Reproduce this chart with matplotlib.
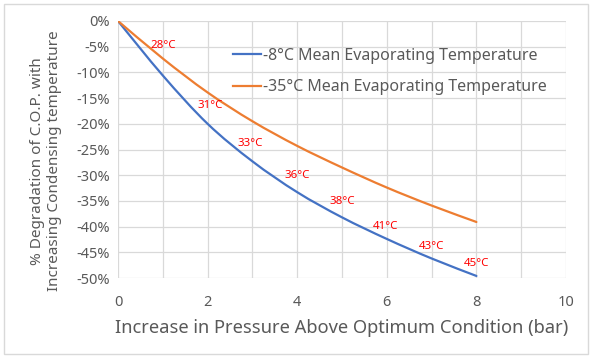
import matplotlib
matplotlib.use('Agg')
import matplotlib.pyplot as plt
from matplotlib.ticker import MultipleLocator, FuncFormatter
from matplotlib.patches import Rectangle, PathPatch
from matplotlib.path import Path
from matplotlib.lines import Line2D

pressure = [0, 1, 2, 3, 4, 5, 6, 7, 8]
deg_m8 = [0, -10.6, -20.0, -27.3, -33.3, -38.2, -42.4, -46.2, -49.6]
deg_m35 = [0, -7.3, -13.9, -19.5, -24.3, -28.5, -32.4, -35.9, -39.1]
cond_labels = ['28°C', '31°C', '33°C', '36°C', '38°C', '41°C', '43°C', '45°C']
label_x = [1.0, 2.06, 2.95, 4.0, 5.0, 5.97, 7.0, 8.0]
label_y = [-4.7, -16.5, -23.9, -30.0, -35.2, -40.0, -43.8, -47.1]

plt.rcParams['font.family'] = ['Noto Sans', 'DejaVu Sans']
gray = '#595959'


def smooth_path(xs, ys):
    # excel style smoothed line: cubic bezier through the points
    verts = [(xs[0], ys[0])]
    codes = [Path.MOVETO]
    n = len(xs)
    for i in range(n - 1):
        x0, y0 = (xs[i - 1], ys[i - 1]) if i > 0 else (xs[i], ys[i])
        x3, y3 = (xs[i + 2], ys[i + 2]) if i + 2 < n else (xs[i + 1], ys[i + 1])
        c1 = (xs[i] + (xs[i + 1] - x0) / 6, ys[i] + (ys[i + 1] - y0) / 6)
        c2 = (xs[i + 1] - (x3 - xs[i]) / 6, ys[i + 1] - (y3 - ys[i]) / 6)
        verts += [c1, c2, (xs[i + 1], ys[i + 1])]
        codes += [Path.CURVE4] * 3
    return Path(verts, codes)


fig = plt.figure(figsize=(5.93, 3.59), dpi=100)
fig.patches.append(Rectangle((4/593, 1-354/359), 584/593, 350/359, transform=fig.transFigure,
                             fill=False, edgecolor='#d9d9d9', linewidth=1))
ax = fig.add_axes([118/593, 1-278/359, 448/593, 257/359])

series = [(deg_m8, '#4472c4', '-8°C Mean Evaporating Temperature'),
          (deg_m35, '#ed7d31', '-35°C Mean Evaporating Temperature')]
handles = []
for ys, c, lab in series:
    ax.add_patch(PathPatch(smooth_path(pressure, ys), fill=False, edgecolor=c, lw=1.6,
                           capstyle='round', joinstyle='round'))
    handles.append(Line2D([], [], color=c, lw=1.6, label=lab))

for t, x, y in zip(cond_labels, label_x, label_y):
    ax.text(x, y, t, color='#ff0000', fontsize=8.3, ha='center', va='center')

ax.set_xlim(0, 10)
ax.set_ylim(-50, 0)
ax.xaxis.set_major_locator(MultipleLocator(2))
ax.xaxis.set_minor_locator(MultipleLocator(1))
ax.yaxis.set_major_locator(MultipleLocator(5))
ax.yaxis.set_major_formatter(FuncFormatter(lambda v, p: f'{v:.0f}%'))
ax.grid(True, which='both', color='#d9d9d9', lw=0.9)
ax.set_axisbelow(True)
for s in ax.spines.values():
    s.set_visible(False)
ax.tick_params(which='both', length=0, colors=gray, labelsize=10.5)
ax.tick_params(axis='x', pad=12)
ax.tick_params(axis='y', pad=6)

ax.set_xlabel('Increase in Pressure Above Optimum Condition (bar)', fontsize=13.2, color=gray, labelpad=7)
fig.text(46/593, 1-161/359, '% Degradation of C.O.P. with\nIncreasing Condensing temperature',
         rotation=90, ha='center', va='center', multialignment='center', fontsize=11,
         color=gray, linespacing=1.15)

ax.legend(handles=handles, loc='upper left', bbox_to_anchor=(0.2416, 0.92), frameon=False, fontsize=11.5,
          handlelength=1.8, handletextpad=0.1, labelspacing=0.95, labelcolor=gray,
          borderaxespad=0)

fig.savefig('out.png', dpi=100)
